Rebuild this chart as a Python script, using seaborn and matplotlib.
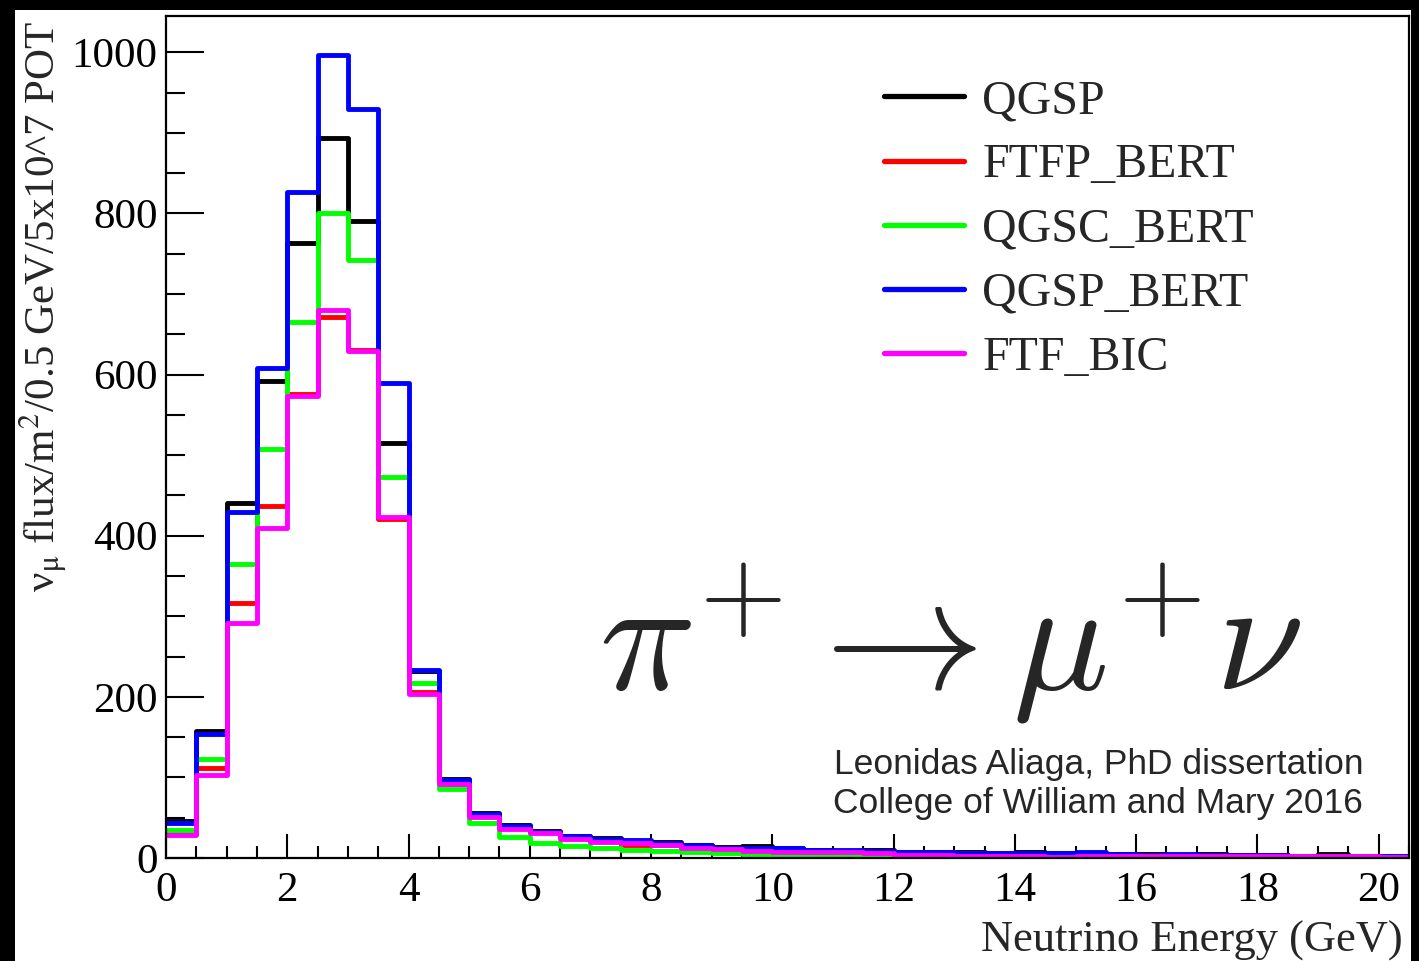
import numpy as np
import pandas as pd
import matplotlib
matplotlib.use("Agg")
import matplotlib.pyplot as plt
from matplotlib.lines import Line2D
from matplotlib.patches import Rectangle
from matplotlib.ticker import MultipleLocator
import seaborn as sns

# ---- data (neutrino flux per 0.5 GeV bin, 0 - 20.5 GeV) ----
bin_width = 0.5
n_bins = 41
models = ["QGSP", "FTFP_BERT", "QGSC_BERT", "QGSP_BERT", "FTF_BIC"]
colors = ["#000000", "#ff0000", "#00ff00", "#0000ff", "#ff00ff"]

qgsp = [46, 158, 441, 592, 763, 893, 790, 515, 232, 98,
        56, 41, 33, 27, 25, 21, 20, 16, 14, 15,
        12, 10, 9, 10, 8, 7, 7, 6, 7, 6,
        6, 5, 5, 4, 5, 4, 4, 3, 5, 3, 3]
ftfp_bert = [30, 112, 317, 437, 576, 671, 630, 421, 206, 92,
             52, 38, 32, 26, 21, 16, 16, 13, 11, 10,
             9, 8, 7, 7, 8, 8, 6, 6, 5, 5,
             4, 4, 4, 3, 4, 4, 3, 3, 3, 2, 2]
qgsc_bert = [35, 123, 365, 507, 665, 800, 742, 473, 217, 86,
             44, 26, 19, 15, 12, 10, 9, 7, 6, 5,
             3, 2, 2, 2, 2, 2, 2, 1, 1, 1,
             1, 1, 1, 1, 1, 1, 3, 1, 3, 1, 1]
qgsp_bert = [44, 154, 430, 608, 827, 996, 929, 590, 233, 97,
             55, 40, 32, 27, 24, 22, 19, 16, 13, 13,
             12, 10, 10, 9, 8, 7, 6, 6, 6, 6,
             7, 5, 4, 5, 4, 4, 4, 3, 3, 3, 3]
ftf_bic = [29, 103, 292, 409, 574, 680, 629, 423, 203, 92,
           51, 36, 31, 24, 20, 18, 16, 13, 11, 9,
           7, 7, 7, 6, 4, 4, 3, 2, 2, 1,
           2, 2, 2, 3, 2, 2, 2, 2, 2, 2, 1]

series = [qgsp, ftfp_bert, qgsc_bert, qgsp_bert, ftf_bic]
centers = np.arange(n_bins) * bin_width + bin_width / 2

df = pd.concat([pd.DataFrame({"E": centers, "flux": vals, "model": m})
                for m, vals in zip(models, series)], ignore_index=True)

# ---- style ----
sns.set_style("ticks")
plt.rcParams["font.family"] = ["Liberation Serif", "DejaVu Serif"]
plt.rcParams["mathtext.fontset"] = "stix"

fig = plt.figure(figsize=(14.19, 9.61), dpi=100)
fig.patch.set_facecolor("black")
fig.add_artist(Rectangle((15 / 1419, 0), (1411 - 15) / 1419, (961 - 10) / 961,
                         transform=fig.transFigure, facecolor="white",
                         edgecolor="none", zorder=-10))
ax = fig.add_axes([166 / 1419, (961 - 858) / 961, (1409 - 166) / 1419, (858 - 16) / 961])
ax.set_facecolor("white")

palette = dict(zip(models, colors))
sns.histplot(data=df, x="E", weights="flux", hue="model",
             hue_order=models[::-1], binwidth=bin_width,
             binrange=(0, n_bins * bin_width), element="step", fill=False,
             palette=palette, linewidth=3.5, legend=False, ax=ax)

ax.set_xlim(0, 20.5)
ax.set_ylim(0, 1045)
ax.xaxis.set_major_locator(MultipleLocator(2))
ax.xaxis.set_minor_locator(MultipleLocator(0.5))
ax.yaxis.set_major_locator(MultipleLocator(200))
ax.yaxis.set_minor_locator(MultipleLocator(50))

for s in ax.spines.values():
    s.set_linewidth(1.6)
    s.set_color("black")
ax.tick_params(axis="both", which="both", direction="in", width=1.5,
               colors="black", labelsize=31)
ax.tick_params(axis="y", which="major", length=27, pad=6)
ax.tick_params(axis="y", which="minor", length=14)
ax.tick_params(axis="x", which="major", length=17, pad=10)
ax.tick_params(axis="x", which="minor", length=9)

ax.set_xlabel("Neutrino Energy (GeV)", fontsize=32, loc="right")
ax.xaxis.set_label_coords(0.995, -0.074)
ax.set_ylabel("ν" + r"$_{\mathrm{\mu}}$ flux/m$^{2}$/0.5 GeV/5x10^7 POT",
              fontsize=31, loc="top")
ax.yaxis.set_label_coords(-0.077, 0.995)

handles = [Line2D([], [], color=c, linewidth=3.8) for c in colors]
ax.legend(handles, models, loc="upper left", bbox_to_anchor=(0.578, 0.925),
          frameon=False, fontsize=34.5, handlelength=1.67, handletextpad=0.37,
          labelspacing=0.42, borderpad=0, borderaxespad=0)

ax.text(0.348, 0.2, r"$\pi^{+} \rightarrow \mu^{+}\nu$", transform=ax.transAxes,
        fontsize=115, math_fontfamily="cm", ha="left", va="baseline")

ax.text(0.75, 0.088, "Leonidas Aliaga, PhD dissertation\nCollege of William and Mary 2016",
        transform=ax.transAxes, fontsize=25.5, ha="center", va="center",
        linespacing=1.2, family=["Liberation Sans", "DejaVu Sans"])

fig.savefig("out.png", dpi=100, facecolor=fig.get_facecolor())
